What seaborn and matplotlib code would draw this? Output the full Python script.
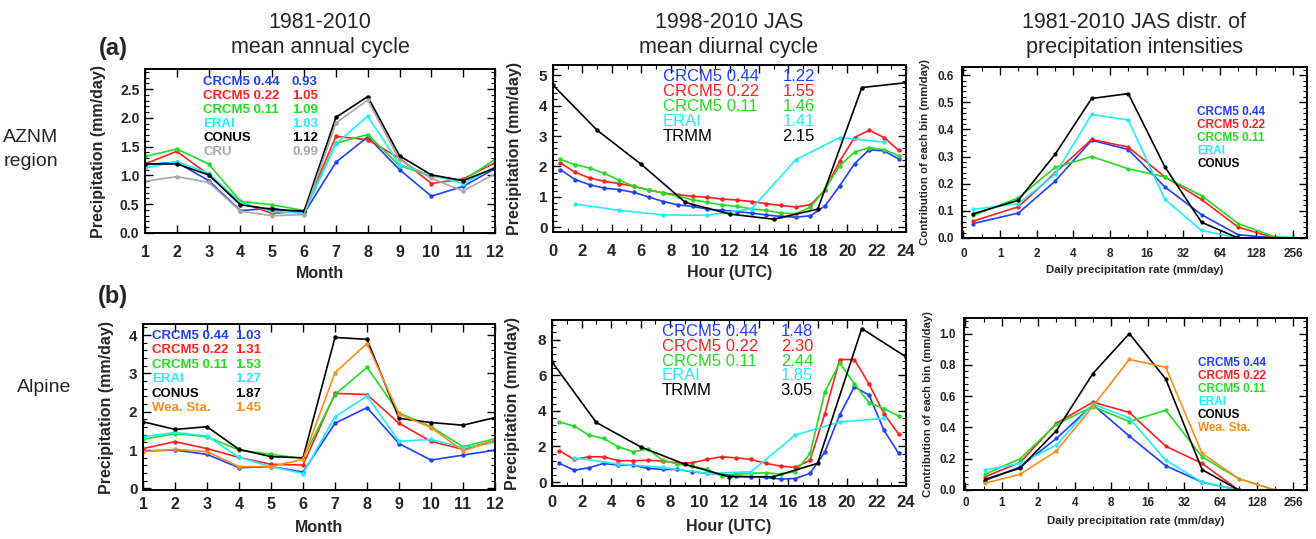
import numpy as np
import pandas as pd
import matplotlib
matplotlib.use("Agg")
import matplotlib.pyplot as plt
import seaborn as sns
from matplotlib.ticker import MultipleLocator, FixedLocator, FormatStrFormatter

W, H = 1316, 539
sns.set_theme(style="ticks")
plt.rcParams["font.family"] = ["Liberation Sans", "DejaVu Sans"]

# ---------------- data ----------------
months = [1, 2, 3, 4, 5, 6, 7, 8, 9, 10, 11, 12]
hours_mod = [0.5, 1.5, 2.5, 3.5, 4.5, 5.5, 6.5, 7.5, 8.5, 9.5, 10.5, 11.5,
             12.5, 13.5, 14.5, 15.5, 16.5, 17.5, 18.5, 19.5, 20.5, 21.5, 22.5, 23.5]
hours_erai = [1.5, 4.5, 7.5, 10.5, 13.5, 16.5, 19.5, 22.5]
hours_trmm = [0, 3, 6, 9, 12, 15, 18, 21, 24]
bin_labels = ["0", "1", "2", "4", "8", "16", "32", "64", "128", "256"]
bins_a = [0.26, 1.5, 2.5, 3.5, 4.5, 5.5, 6.5, 7.5, 8.5, 9.35]
bins_b = [0.53, 1.5, 2.5, 3.5, 4.5, 5.5, 6.5, 7.5, 8.5]

names_a1 = ["CRCM5 0.44", "CRCM5 0.22", "CRCM5 0.11", "ERAI", "CONUS", "CRU"]
stats_a1 = ["0.93", "1.05", "1.09", "1.03", "1.12", "0.99"]
names_b1 = ["CRCM5 0.44", "CRCM5 0.22", "CRCM5 0.11", "ERAI", "CONUS", "Wea. Sta."]
stats_b1 = ["1.03", "1.31", "1.53", "1.27", "1.87", "1.45"]
names_d = ["CRCM5 0.44", "CRCM5 0.22", "CRCM5 0.11", "ERAI", "TRMM"]
stats_a2 = ["1.22", "1.55", "1.46", "1.41", "2.15"]
stats_b2 = ["1.48", "2.30", "2.44", "1.85", "3.05"]
names_a3 = ["CRCM5 0.44", "CRCM5 0.22", "CRCM5 0.11", "ERAI", "CONUS"]
names_b3 = ["CRCM5 0.44", "CRCM5 0.22", "CRCM5 0.11", "ERAI", "CONUS", "Wea. Sta."]

# (a) AZNM annual cycle
a1_c044 = [1.19, 1.23, 0.91, 0.39, 0.43, 0.34, 1.23, 1.67, 1.10, 0.64, 0.81, 1.12]
a1_c022 = [1.20, 1.42, 1.01, 0.53, 0.34, 0.38, 1.68, 1.62, 1.30, 0.86, 0.94, 1.22]
a1_c011 = [1.33, 1.46, 1.20, 0.55, 0.49, 0.39, 1.56, 1.71, 1.17, 0.99, 0.91, 1.28]
a1_erai = [1.13, 1.24, 1.04, 0.52, 0.38, 0.34, 1.55, 2.03, 1.19, 1.01, 0.86, 1.15]
a1_conus = [1.20, 1.20, 1.01, 0.49, 0.41, 0.38, 2.01, 2.37, 1.34, 1.01, 0.91, 1.13]
a1_cru = [0.90, 0.98, 0.88, 0.38, 0.30, 0.32, 1.91, 2.31, 1.27, 0.95, 0.73, 1.03]

# (a) AZNM diurnal cycle
a2_c044 = [1.90, 1.57, 1.40, 1.29, 1.24, 1.15, 1.00, 0.85, 0.74, 0.69, 0.60, 0.56,
           0.52, 0.47, 0.41, 0.36, 0.34, 0.38, 0.71, 1.37, 2.09, 2.55, 2.51, 2.25]
a2_c022 = [2.12, 1.81, 1.62, 1.51, 1.44, 1.35, 1.23, 1.13, 1.07, 1.02, 0.99, 0.93,
           0.90, 0.85, 0.78, 0.72, 0.67, 0.74, 1.23, 2.18, 2.95, 3.19, 2.95, 2.53]
a2_c011 = [2.23, 2.06, 1.95, 1.77, 1.55, 1.35, 1.23, 1.13, 1.02, 0.91, 0.82, 0.74,
           0.69, 0.61, 0.56, 0.47, 0.45, 0.66, 1.26, 2.03, 2.47, 2.62, 2.55, 2.36]
a2_erai = [0.77, 0.56, 0.41, 0.40, 0.61, 2.22, 2.95, 2.80]
a2_trmm = [4.67, 3.19, 2.07, 0.82, 0.44, 0.27, 0.60, 4.59, 4.75]

# (a) AZNM intensity distribution
a3_c044 = [0.053, 0.092, 0.209, 0.360, 0.326, 0.188, 0.086, 0.012, 0.0, 0.0]
a3_c022 = [0.062, 0.115, 0.240, 0.363, 0.335, 0.225, 0.142, 0.040, 0.0, 0.0]
a3_c011 = [0.083, 0.148, 0.260, 0.300, 0.255, 0.225, 0.156, 0.053, 0.004, 0.0]
a3_erai = [0.105, 0.127, 0.234, 0.455, 0.435, 0.142, 0.028, 0.0, 0.0, 0.0]
a3_conus = [0.089, 0.139, 0.308, 0.514, 0.532, 0.262, 0.058, 0.0, 0.0, 0.0]

# (b) Alpine annual cycle
b1_c044 = [0.98, 1.00, 0.89, 0.54, 0.57, 0.43, 1.70, 2.11, 1.17, 0.74, 0.87, 1.00]
b1_c022 = [1.04, 1.22, 1.04, 0.81, 0.63, 0.61, 2.48, 2.45, 1.70, 1.23, 1.02, 1.25]
b1_c011 = [1.28, 1.43, 1.35, 1.00, 0.89, 0.78, 2.45, 3.16, 1.97, 1.61, 1.09, 1.30]
b1_erai = [1.35, 1.46, 1.37, 0.81, 0.57, 0.39, 1.87, 2.41, 1.23, 1.28, 1.06, 1.20]
b1_conus = [1.74, 1.54, 1.61, 1.02, 0.83, 0.80, 3.94, 3.89, 1.83, 1.72, 1.65, 1.85]
b1_wsta = [0.96, 1.02, 0.96, 0.57, 0.57, 0.76, 3.02, 3.78, 1.94, 1.59, 0.98, 1.25]

# (b) Alpine diurnal cycle
b2_c044 = [1.05, 0.67, 0.80, 1.05, 0.95, 0.95, 0.77, 0.71, 0.71, 0.58, 0.49, 0.45,
           0.34, 0.30, 0.26, 0.17, 0.20, 0.49, 1.70, 3.76, 5.35, 4.88, 2.92, 1.61]
b2_c022 = [1.76, 1.27, 1.42, 1.42, 1.20, 1.20, 1.23, 1.18, 1.08, 1.08, 1.27, 1.42,
           1.36, 1.27, 1.05, 0.90, 0.82, 1.23, 3.85, 6.88, 6.88, 5.50, 3.85, 2.69]
b2_c011 = [3.38, 3.14, 2.64, 2.45, 1.98, 1.70, 1.85, 1.23, 1.01, 0.90, 0.71, 0.34,
           0.45, 0.49, 0.52, 0.45, 0.58, 1.61, 5.07, 6.69, 5.53, 4.45, 4.13, 3.70]
b2_erai = [1.36, 1.01, 0.82, 0.49, 0.58, 2.64, 3.38, 3.57]
b2_trmm = [6.75, 3.35, 1.98, 1.00, 0.30, 0.30, 1.05, 8.62, 7.03]

# (b) Alpine intensity distribution
b3_c044 = [0.060, 0.148, 0.330, 0.545, 0.345, 0.155, 0.050, 0.0, np.nan]
b3_c022 = [0.084, 0.176, 0.427, 0.562, 0.496, 0.280, 0.170, 0.0, np.nan]
b3_c011 = [0.100, 0.200, 0.420, 0.534, 0.438, 0.510, 0.212, 0.073, 0.0]
b3_erai = [0.127, 0.170, 0.288, 0.550, 0.460, 0.190, 0.050, 0.0, np.nan]
b3_conus = [0.067, 0.140, 0.380, 0.745, 1.000, 0.710, 0.130, 0.0, np.nan]
b3_wsta = [0.043, 0.100, 0.250, 0.535, 0.835, 0.785, 0.234, 0.073, 0.0]

# ---------------- style ----------------
BLUE, RED, GREEN, CYAN, BLACK, GRAY, ORANGE = ("#2040FF", "#FF2020", "#22DD22",
                                              "#22EEFF", "#000000", "#A8A8A8", "#FF8C1A")
col_a1 = [BLUE, RED, GREEN, CYAN, BLACK, GRAY]
col_b1 = [BLUE, RED, GREEN, CYAN, BLACK, ORANGE]
col_d = [BLUE, RED, GREEN, CYAN, BLACK]

fig = plt.figure(figsize=(W / 100, H / 100), dpi=100)


def add_ax(l, t, r, b):
    return fig.add_axes([l / W, 1 - b / H, (r - l) / W, (b - t) / H])


def draw(ax, series, names, colors, ms=3.2):
    rows = []
    for name, (xs, ys) in zip(names, series):
        for x, y in zip(xs, ys):
            rows.append({"x": x, "y": y, "series": name})
    df = pd.DataFrame(rows).dropna()
    sns.lineplot(data=df, x="x", y="y", hue="series", hue_order=names,
                 palette=dict(zip(names, colors)), marker="o", markersize=ms,
                 markeredgewidth=0, linewidth=1.2, estimator=None, sort=False,
                 legend=False, ax=ax)


def style(ax, xfs, yfs, xpad, ypad):
    for s in ax.spines.values():
        s.set_visible(True)
        s.set_linewidth(1.4)
        s.set_color("black")
    ax.tick_params(which="both", direction="in", top=True, right=True, color="black")
    ax.tick_params(which="major", length=6, width=1.0)
    ax.tick_params(which="minor", length=3, width=0.8)
    ax.tick_params(axis="x", labelsize=xfs, pad=xpad)
    ax.tick_params(axis="y", labelsize=yfs, pad=ypad)
    for lab in ax.get_xticklabels() + ax.get_yticklabels():
        lab.set_fontweight("bold")
    ax.grid(False)
    ax.set_facecolor("white")


def labels(ax, l, t, r, b, xl, yl, xl_y, yl_x, fs):
    ax.set_xlabel(xl, fontsize=fs, fontweight="bold")
    ax.set_ylabel(yl, fontsize=fs, fontweight="bold")
    ax.xaxis.set_label_coords(0.5, -(xl_y - b) / (b - t))
    ax.yaxis.set_label_coords(-(l - yl_x) / (r - l), 0.5)
    ax.xaxis.label.set_va("center")
    ax.yaxis.label.set_va("center")


def legend_text(names, stats, colors, x0, x1, y0, dy, fs, weight):
    for i, (n, c) in enumerate(zip(names, colors)):
        y = 1 - (y0 + i * dy) / H
        fig.text(x0 / W, y, n, color=c, fontsize=fs, fontweight=weight, ha="left", va="center")
        if stats is not None:
            fig.text(x1 / W, y, stats[i], color=c, fontsize=fs, fontweight=weight,
                     ha="right", va="center")


# ---------- annual panels ----------
for (l, t, r, b), ser, nms, cols, ylim, ymaj, ymin, fmt, yfs, xpad, xly, ylx in [
    ((145, 69, 495, 233), [a1_c044, a1_c022, a1_c011, a1_erai, a1_conus, a1_cru],
     names_a1, col_a1, (0, 2.85), 0.5, 0.1, "%.1f", 10, 8.5, 273, 98),
    ((143, 324, 495, 490), [b1_c044, b1_c022, b1_c011, b1_erai, b1_conus, b1_wsta],
     names_b1, col_b1, (-0.04, 4.29), 1, 0.2, "%d", 11, 5, 528, 107),
]:
    ax = add_ax(l, t, r, b)
    draw(ax, [(months, s) for s in ser], nms, cols)
    ax.set_xlim(1, 12)
    ax.set_ylim(*ylim)
    ax.xaxis.set_major_locator(FixedLocator(months))
    ax.yaxis.set_major_locator(MultipleLocator(ymaj))
    ax.yaxis.set_minor_locator(MultipleLocator(ymin))
    ax.yaxis.set_major_formatter(FormatStrFormatter(fmt))
    style(ax, 11.5, yfs, xpad, 4)
    labels(ax, l, t, r, b, "Month", "Precipitation (mm/day)", xly, ylx, 11.5)

# ---------- diurnal panels ----------
for (l, t, r, b), ser, ylim, ymaj, ymin, xpad, xly, ylx in [
    ((553, 65, 906, 232), [a2_c044, a2_c022, a2_c011, a2_erai, a2_trmm],
     (-0.15, 5.33), 1, 0.2, 8.5, 272, 515),
    ((552, 320, 906, 486), [b2_c044, b2_c022, b2_c011, b2_erai, b2_trmm],
     (-0.22, 9.1), 2, 0.4, 6.5, 527, 513),
]:
    ax = add_ax(l, t, r, b)
    xs = [hours_mod, hours_mod, hours_mod, hours_erai, hours_trmm]
    draw(ax, list(zip(xs, ser)), names_d, col_d)
    ax.set_xlim(0, 24)
    ax.set_ylim(*ylim)
    ax.xaxis.set_major_locator(MultipleLocator(2))
    ax.xaxis.set_minor_locator(MultipleLocator(1))
    ax.yaxis.set_major_locator(MultipleLocator(ymaj))
    ax.yaxis.set_minor_locator(MultipleLocator(ymin))
    ax.yaxis.set_major_formatter(FormatStrFormatter("%d"))
    style(ax, 12, 11, xpad, 4)
    labels(ax, l, t, r, b, "Hour (UTC)", "Precipitation (mm/day)", xly, ylx, 11.5)

# ---------- distribution panels ----------
for (l, t, r, b), xs, ser, nms, cols, ylim, ymaj, ymin, xpad, xly, ylx in [
    ((962, 67, 1307, 238), bins_a, [a3_c044, a3_c022, a3_c011, a3_erai, a3_conus],
     names_a3, col_d, (0, 0.63), 0.1, 0.02, 7, 270, 925),
    ((964, 318, 1307, 490), bins_b, [b3_c044, b3_c022, b3_c011, b3_erai, b3_conus, b3_wsta],
     names_b3, col_b1, (0, 1.1), 0.2, 0.04, 5, 521, 928),
]:
    ax = add_ax(l, t, r, b)
    draw(ax, [(xs, s) for s in ser], nms, cols, ms=3.0)
    ax.set_xlim(-0.04, 9.38)
    ax.set_ylim(*ylim)
    ax.xaxis.set_major_locator(FixedLocator(list(range(len(bin_labels)))))
    ax.set_xticklabels(bin_labels)
    ax.xaxis.set_minor_locator(MultipleLocator(0.5))
    ax.yaxis.set_major_locator(MultipleLocator(ymaj))
    ax.yaxis.set_minor_locator(MultipleLocator(ymin))
    ax.yaxis.set_major_formatter(FormatStrFormatter("%.1f"))
    style(ax, 8.5, 8.5, xpad, 6)
    labels(ax, l, t, r, b, "Daily precipitation rate (mm/day)",
           "Contribution of each bin (mm/day)", xly, ylx, 8.2)

# ---------- in-panel legends ----------
legend_text(names_a1, stats_a1, col_a1, 203, 318, 82, 14, 9.5, "bold")
legend_text(names_b1, stats_b1, col_b1, 152, 261, 336, 14.4, 9.5, "bold")
legend_text(names_d, stats_a2, col_d, 663, 815, 77, 14.8, 12, "normal")
legend_text(names_d, stats_b2, col_d, 662, 813, 332, 14.6, 12, "normal")
legend_text(names_a3, None, col_d, 1197, 0, 112, 12.9, 8.5, "bold")
legend_text(names_b3, None, col_b1, 1198, 0, 363, 13, 8.5, "bold")

# ---------- titles and panel labels ----------
def ftext(x, y, s, **kw):
    fig.text(x / W, 1 - y / H, s, ha="center", va="center", **kw)

ftext(320, 22, "1981-2010", fontsize=15.5)
ftext(320, 48, "mean annual cycle", fontsize=15.5)
ftext(729, 22, "1998-2010 JAS", fontsize=15.5)
ftext(729, 48, "mean diurnal cycle", fontsize=15.5)
ftext(1134, 22, "1981-2010 JAS distr. of", fontsize=15.5)
ftext(1134, 48, "precipitation intensities", fontsize=15.5)
ftext(113, 48, "(a)", fontsize=17, fontweight="bold")
ftext(113, 297, "(b)", fontsize=17, fontweight="bold")
ftext(31, 137, "AZNM", fontsize=14)
ftext(31, 162, "region", fontsize=14)
ftext(44, 388, "Alpine", fontsize=14)

fig.savefig("out.png", dpi=100, facecolor="white")
